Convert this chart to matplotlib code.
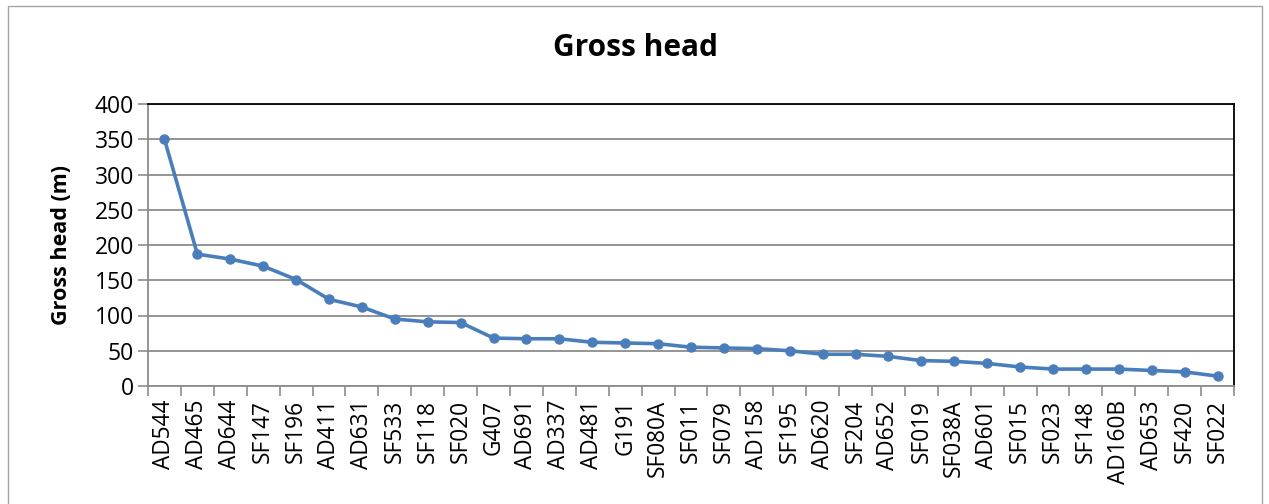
import numpy as np
import matplotlib.pyplot as plt
from matplotlib.patches import Rectangle

plt.rcParams['font.family'] = ['Open Sans', 'DejaVu Sans']

sites = ["AD544", "AD465", "AD644", "SF147", "SF196", "AD411", "AD631", "SF533",
         "SF118", "SF020", "G407", "AD691", "AD337", "AD481", "G191", "SF080A",
         "SF011", "SF079", "AD158", "SF195", "AD620", "SF204", "AD652", "SF019",
         "SF038A", "AD601", "SF015", "SF023", "SF148", "AD160B", "AD653", "SF420",
         "SF022"]
head = [350, 187, 180, 170, 151, 123, 112, 95, 91, 90, 68, 67, 67, 62, 61, 60,
        55, 54, 53, 50, 45, 45, 42, 36, 35, 32, 27, 24, 24, 24, 22, 20, 14]
yticks = [0, 50, 100, 150, 200, 250, 300, 350, 400]

W, H = 1269, 504
fig = plt.figure(figsize=(W / 100, H / 100), dpi=100)

# outer chart frame, open at the bottom
frame = Rectangle((8 / W, -0.05), (1262 - 8) / W, 1.05 - 6 / H,
                  transform=fig.transFigure, fill=False,
                  edgecolor='#a6a6a6', linewidth=1.0)
fig.patches.append(frame)

ax = fig.add_axes([148 / W, 1 - 386 / H, (1234 - 148) / W, (386 - 104) / H])

x = np.arange(len(sites))
ax.plot(x, head, color='#4a7ebb', linewidth=2.6, marker='o', markersize=6.5,
        markerfacecolor='#4a7ebb', markeredgecolor='#4a7ebb', zorder=3)

ax.set_xlim(-0.5, len(sites) - 0.5)
ax.set_ylim(0, 400)
ax.set_yticks(yticks)
ax.set_yticklabels([str(v) for v in yticks])
ax.yaxis.grid(True, color='#8c8c8c', linewidth=1.3)
ax.set_axisbelow(True)

# category labels centred, tick marks between categories
ax.set_xticks(x)
ax.set_xticklabels(sites, rotation=90, fontsize=16.3)
ax.tick_params(axis='x', length=0, pad=10)
ax.set_xticks(np.arange(-0.5, len(sites)), minor=True)
ax.tick_params(axis='x', which='minor', length=7, color='#8c8c8c', width=1.2)
ax.tick_params(axis='y', length=7, color='#8c8c8c', width=1.2,
               labelsize=16.5, pad=3)

for s in ['left', 'bottom']:
    ax.spines[s].set_color('#8c8c8c')
    ax.spines[s].set_linewidth(1.3)
for s in ['top', 'right']:
    ax.spines[s].set_color('black')
    ax.spines[s].set_linewidth(1.3)

ax.set_ylabel('Gross head (m)', fontsize=15.5, fontweight='bold')
ax.yaxis.set_label_coords((72 - 148) / 1086, 0.5)
fig.text(636 / W, 1 - 48 / H, 'Gross head', ha='center', va='center',
         fontsize=21.5, fontweight='bold')

fig.savefig('out.png', dpi=100)
